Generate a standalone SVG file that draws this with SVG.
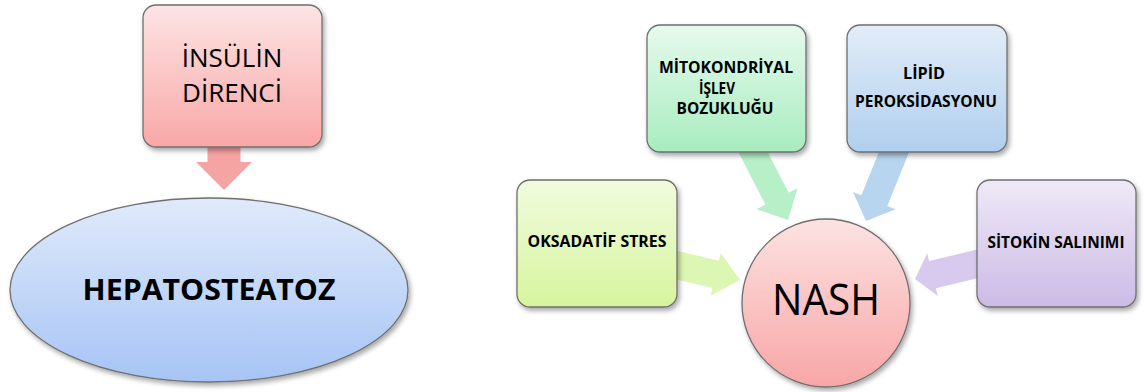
<svg xmlns="http://www.w3.org/2000/svg" width="1144" height="392" viewBox="0 0 1144 392">
<defs>
<filter id="sh" x="-20%" y="-20%" width="140%" height="140%"><feGaussianBlur in="SourceAlpha" stdDeviation="2.5"/><feOffset dx="2" dy="3"/><feComponentTransfer><feFuncA type="linear" slope="0.35"/></feComponentTransfer><feMerge><feMergeNode/><feMergeNode in="SourceGraphic"/></feMerge></filter>
<linearGradient id="gPink" x1="0" y1="0" x2="0" y2="1"><stop offset="0" stop-color="#fde4e4"/><stop offset="1" stop-color="#f9a7a7"/></linearGradient>
<linearGradient id="gBlueE" x1="0" y1="0" x2="0" y2="1"><stop offset="0" stop-color="#e0eafb"/><stop offset="1" stop-color="#a6c4f5"/></linearGradient>
<linearGradient id="gGreen" x1="0" y1="0" x2="0" y2="1"><stop offset="0" stop-color="#e6faec"/><stop offset="1" stop-color="#a8ecbf"/></linearGradient>
<linearGradient id="gLime" x1="0" y1="0" x2="0" y2="1"><stop offset="0" stop-color="#f1fbdf"/><stop offset="1" stop-color="#d6f59d"/></linearGradient>
<linearGradient id="gBlue" x1="0" y1="0" x2="0" y2="1"><stop offset="0" stop-color="#e2ecf8"/><stop offset="1" stop-color="#b0cfee"/></linearGradient>
<linearGradient id="gPurple" x1="0" y1="0" x2="0" y2="1"><stop offset="0" stop-color="#efe9f7"/><stop offset="1" stop-color="#cbbbe6"/></linearGradient>
<linearGradient id="gNash" x1="0" y1="0" x2="0" y2="1"><stop offset="0" stop-color="#fde2e2"/><stop offset="1" stop-color="#f8a6a6"/></linearGradient>
</defs>
<style>
.box{stroke:#6f6f6f;stroke-width:1.3;filter:url(#sh)}
.t{font-family:"Open Sans","Liberation Sans",sans-serif;fill:#000;text-anchor:middle}
.b{font-weight:bold;font-size:15.5px}
</style>
<g id="connectors">
<polygon points="207.5,147 207.5,162 196,162 224,190 252,162 240.5,162 240.5,147" fill="#f6a3a3"/>
<polygon points="735.9,147.3 765.4,204.6 756.6,209.2 788,220 797.5,188.2 788.6,192.7 759.1,135.4" fill="#b6efc8"/>
<polygon points="662.1,275.9 712.5,287.9 710.6,295.7 740,280 720.7,252.9 718.8,260.7 668.5,248.7" fill="#dcf7b3"/>
<polygon points="885.6,135.6 861.4,195.3 853,191.9 866,221 895.6,209.3 887.3,205.9 911.5,146.2" fill="#b7d5ef"/>
<polygon points="985.3,247.5 929.1,261.1 927.2,253.3 915,279 937.8,296.1 935.9,288.3 992.1,274.7" fill="#d8caef"/>
</g>
<g id="insulin">
<rect class="box" x="143" y="5" width="179" height="142" rx="13" fill="url(#gPink)"/>
<text class="t" x="232" y="67" font-size="26">İNSÜLİN</text>
<text class="t" x="232" y="102" font-size="26">DİRENCİ</text>
</g>
<g id="hepatosteatoz">
<ellipse class="box" cx="209" cy="290" rx="199" ry="92" fill="url(#gBlueE)"/>
<text class="t" x="209" y="300" font-size="29" font-weight="bold" textLength="253" lengthAdjust="spacingAndGlyphs">HEPATOSTEATOZ</text>
</g>
<g id="mitokondriyal">
<rect class="box" x="647" y="25" width="159" height="127" rx="13" fill="url(#gGreen)"/>
<text class="t b" x="726" y="73" textLength="134" lengthAdjust="spacingAndGlyphs">MİTOKONDRİYAL</text>
<text class="t b" x="717" y="94" textLength="36" lengthAdjust="spacingAndGlyphs">İŞLEV</text>
<text class="t b" x="725" y="114" textLength="97" lengthAdjust="spacingAndGlyphs">BOZUKLUĞU</text>
</g>
<g id="lipid">
<rect class="box" x="847" y="25" width="160" height="127" rx="13" fill="url(#gBlue)"/>
<text class="t b" x="924" y="79" textLength="42" lengthAdjust="spacingAndGlyphs">LİPİD</text>
<text class="t b" x="926" y="107" textLength="142" lengthAdjust="spacingAndGlyphs">PEROKSİDASYONU</text>
</g>
<g id="oksadatif">
<rect class="box" x="517" y="180" width="160" height="127" rx="13" fill="url(#gLime)"/>
<text class="t b" x="597" y="247" textLength="139" lengthAdjust="spacingAndGlyphs">OKSADATİF STRES</text>
</g>
<g id="sitokin">
<rect class="box" x="977" y="180" width="159" height="127" rx="13" fill="url(#gPurple)"/>
<text class="t b" x="1056" y="248" textLength="137" lengthAdjust="spacingAndGlyphs">SİTOKİN SALINIMI</text>
</g>
<g id="nash">
<circle class="box" cx="826" cy="303" r="84" fill="url(#gNash)"/>
<text class="t" x="826" y="315" font-size="43" textLength="108" lengthAdjust="spacingAndGlyphs">NASH</text>
</g>
</svg>
